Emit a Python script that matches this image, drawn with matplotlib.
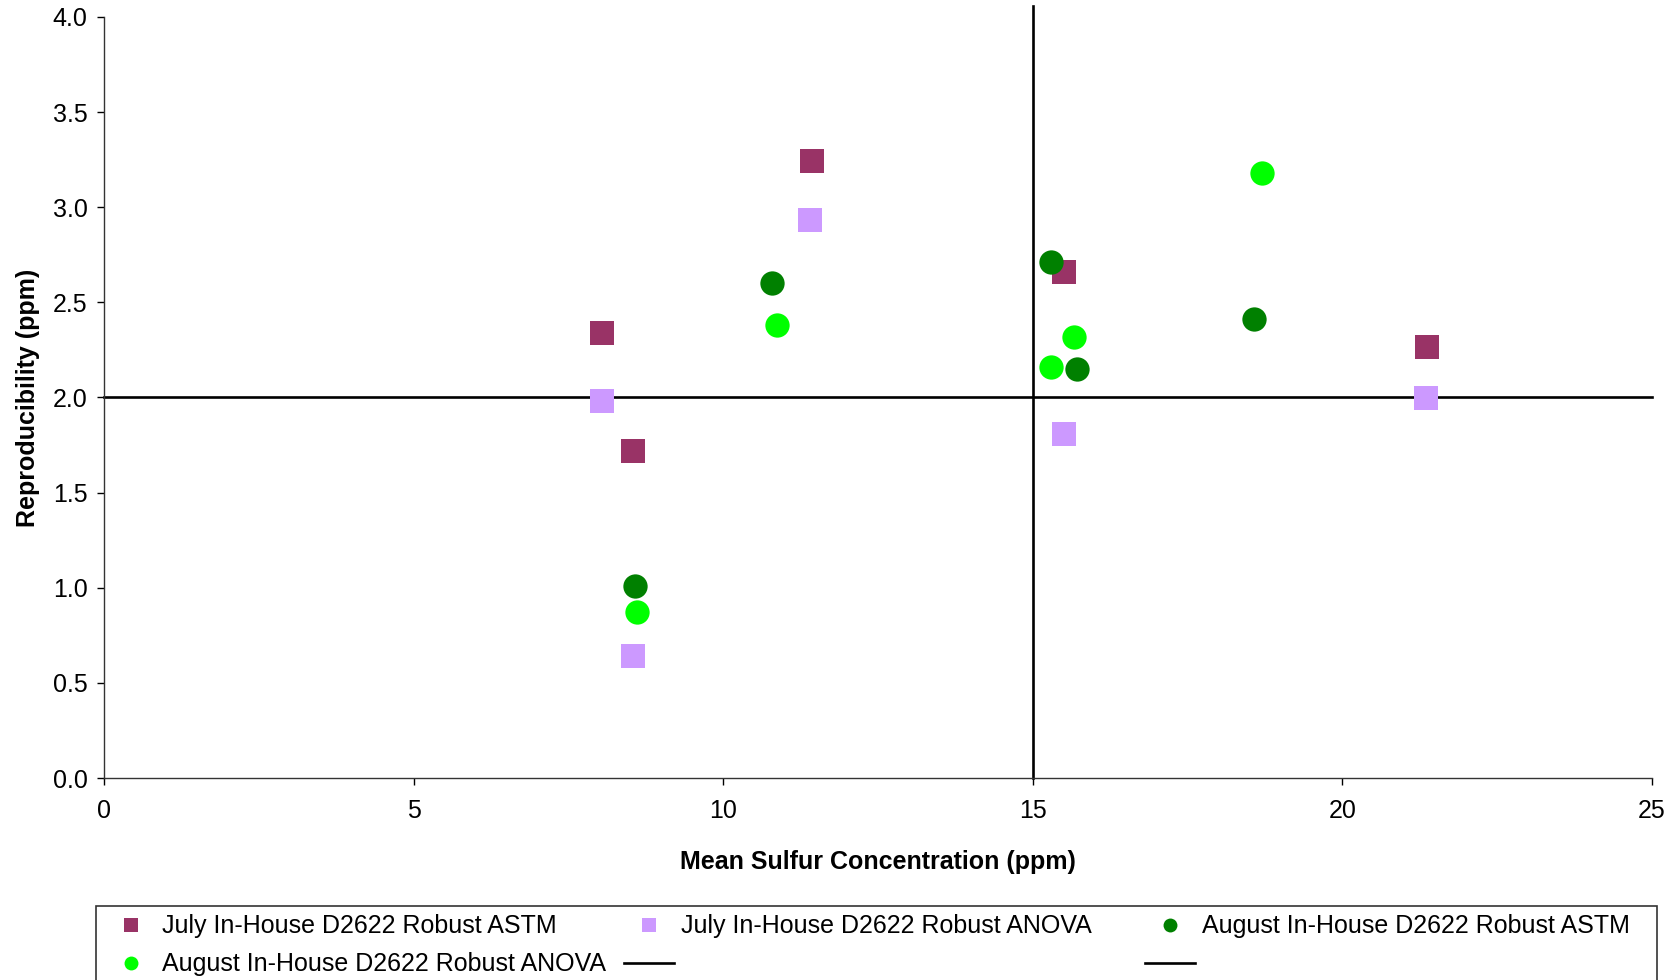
import matplotlib
matplotlib.use('Agg')
import matplotlib.pyplot as plt
from matplotlib.lines import Line2D
from matplotlib.patches import Rectangle

plt.rcParams['font.family'] = ['Liberation Sans', 'DejaVu Sans']

# July In-House D2622 Robust ASTM
july_astm_x = [8.05, 8.54, 11.44, 15.50, 21.36]
july_astm_y = [2.34, 1.72, 3.245, 2.66, 2.265]
# July In-House D2622 Robust ANOVA
july_anova_x = [8.05, 8.54, 11.41, 15.50, 21.35]
july_anova_y = [1.98, 0.64, 2.935, 1.81, 1.995]
# August In-House D2622 Robust ASTM
aug_astm_x = [8.57, 10.79, 15.29, 15.72, 18.58]
aug_astm_y = [1.01, 2.60, 2.71, 2.15, 2.41]
# August In-House D2622 Robust ANOVA
aug_anova_x = [8.60, 10.87, 15.30, 15.67, 18.70]
aug_anova_y = [0.87, 2.38, 2.16, 2.32, 3.18]

# reference lines
hline_x = [0, 25]
hline_y = [2.0, 2.0]
vline_x = [15, 15]
vline_y = [0, 4.055]

labels = ['July In-House D2622 Robust ASTM', 'July In-House D2622 Robust ANOVA',
          'August In-House D2622 Robust ASTM', 'August In-House D2622 Robust ANOVA']
colors = ['#993366', '#CC99FF', '#008000', '#00FF00']
markers = ['s', 's', 'o', 'o']

fig = plt.figure(figsize=(16.81, 9.8), dpi=100)
ax = fig.add_axes([0.0619, 0.2061, 0.9208, 0.7766])

ax.plot(hline_x, hline_y, color='black', lw=1.9, zorder=2, clip_on=False)
ax.plot(vline_x, vline_y, color='black', lw=1.9, zorder=2, clip_on=False)

series = [(july_astm_x, july_astm_y), (july_anova_x, july_anova_y),
          (aug_astm_x, aug_astm_y), (aug_anova_x, aug_anova_y)]
for (xs, ys), c, m in zip(series, colors, markers):
    ms = 17 if m == 's' else 17.5
    ax.plot(xs, ys, ls='none', marker=m, color=c, markersize=ms,
            markeredgewidth=0, zorder=3, clip_on=False)

ax.set_xlim(0, 25)
ax.set_ylim(0, 4.0)
ax.set_xticks([0, 5, 10, 15, 20, 25])
ax.set_yticks([0.0, 0.5, 1.0, 1.5, 2.0, 2.5, 3.0, 3.5, 4.0])
ax.yaxis.set_major_formatter(matplotlib.ticker.FormatStrFormatter('%.1f'))
ax.tick_params(axis='both', direction='out', length=5, width=1, colors='black', labelsize=18)
ax.tick_params(axis='x', pad=10)
ax.tick_params(axis='y', pad=7)
for s in ['top', 'right']:
    ax.spines[s].set_visible(False)
for s in ['left', 'bottom']:
    ax.spines[s].set_linewidth(1)
    ax.spines[s].set_color('#333333')

ax.set_xlabel('Mean Sulfur Concentration (ppm)', fontsize=18, fontweight='bold')
ax.set_ylabel('Reproducibility (ppm)', fontsize=18, fontweight='bold')
ax.xaxis.set_label_coords(0.5, -0.0952)
ax.yaxis.set_label_coords(-0.0417, 0.5)

# legend: frame + three columns, laid out like the original
fig.patches.append(Rectangle((0.0574, -0.05), 0.9286, 0.1255, transform=fig.transFigure,
                             fill=False, edgecolor='#333333', lw=1.2, clip_on=False))

def handle(i):
    return Line2D([], [], ls='none', marker=markers[i], color=colors[i],
                  markersize=10, markeredgewidth=0)

line_h = Line2D([], [], color='black', lw=1.9)
cols = [
    ([handle(0), handle(3)], [labels[0], labels[3]], 0.0628),
    ([handle(1), line_h], [labels[1], ''], 0.3715),
    ([handle(2), line_h], [labels[2], ''], 0.6814),
]
for hs, ls, x0 in cols:
    leg = fig.legend(hs, ls, loc='upper left', bbox_to_anchor=(x0, 0.067),
                     bbox_transform=fig.transFigure, frameon=False, fontsize=18,
                     borderpad=0, borderaxespad=0, handlelength=2.0,
                     handletextpad=0.25, labelspacing=0.565)

fig.savefig('out.png', dpi=100)
